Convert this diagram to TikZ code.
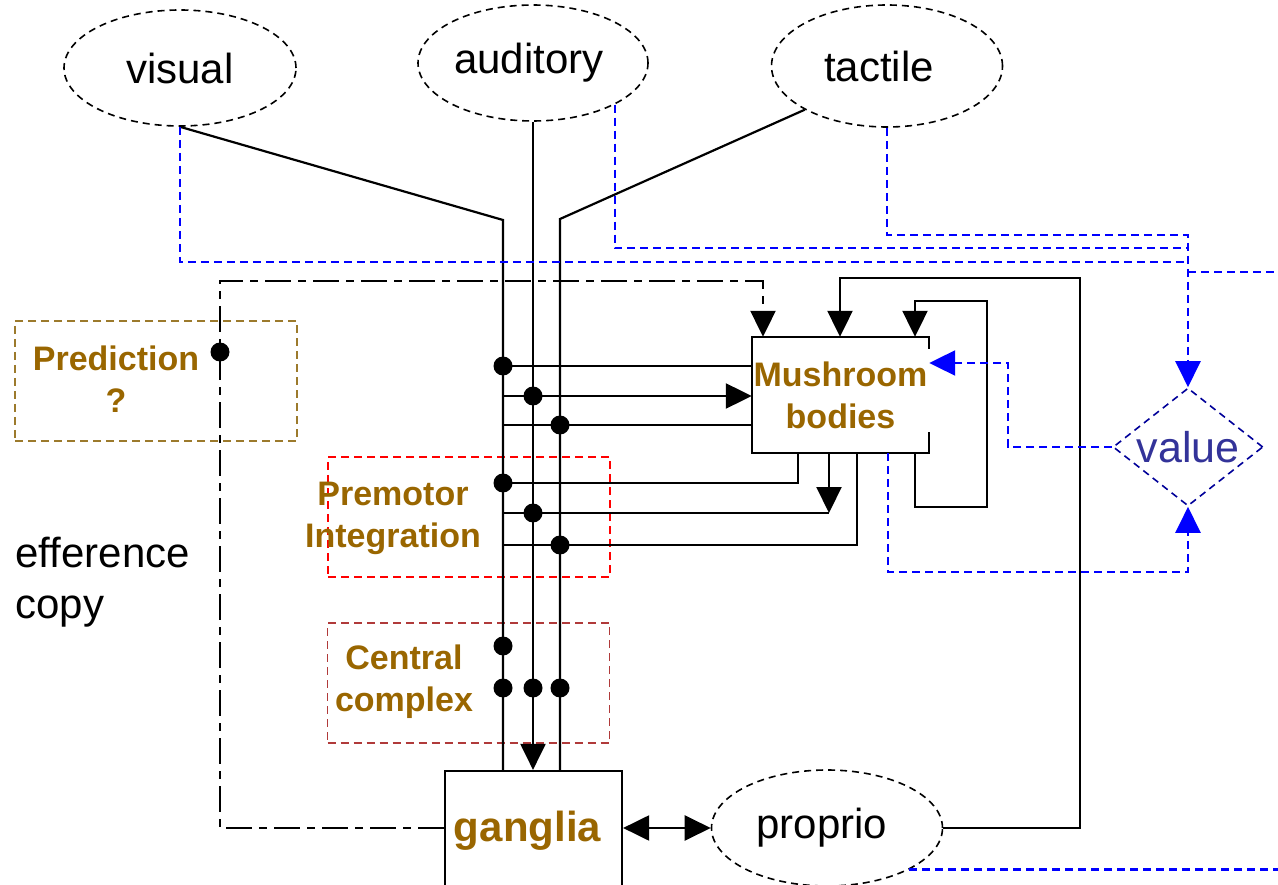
\documentclass[tikz,border=0pt]{standalone}
\usepackage{fontspec}
\setmainfont{Liberation Sans}
\usetikzlibrary{arrows.meta,shapes.geometric}

\definecolor{mbbrown}{HTML}{996600}
\definecolor{predline}{HTML}{9C7A2C}
\definecolor{ccline}{HTML}{B03A3A}
\definecolor{valblue}{HTML}{000099}
\definecolor{valtext}{HTML}{333399}

\tikzset{
  sense/.style={ellipse, draw, dash pattern=on 7pt off 5pt, line width=1.6pt,
    inner sep=0pt, font=\fontsize{42}{50}\selectfont},
  wire/.style={line width=2.2pt},
  dashdotwire/.style={line width=2.2pt, dash pattern=on 26pt off 7pt on 8pt off 7pt},
  bluewire/.style={blue, line width=2.2pt, dash pattern=on 8pt off 5pt},
  arrowend/.style={-{Triangle[length=26pt,width=25pt]}},
  region/.style={draw, dash pattern=on 8pt off 5pt, line width=1.6pt, inner sep=0pt,
    minimum width=282pt, minimum height=120pt},
  lbl/.style={text=mbbrown, font=\fontsize{34}{42}\selectfont\bfseries, align=center},
}

\begin{document}
\begin{tikzpicture}[x=1pt,y=-1pt]
\useasboundingbox (0,0) rectangle (1278,885);
\clip (0,0) rectangle (1278,885);

% dashed regions and their labels
\node[region, draw=predline] (predbox) at (156,381) {};
\node[lbl] (predtext) at (116,379) {Prediction\\?};
\node[region, draw=red] (premotor) at (469,517) {};
\node[lbl] (premotortext) at (393,518) {Premotor\\Integration};
\node[region, draw=ccline] (central) at (468.5,683) {};
\node[lbl] (centraltext) at (404,682) {Central\\complex};

\node[font=\fontsize{42}{51}\selectfont, align=left, anchor=west] (effcopy) at (12,582) {efference\\copy};

% sensory modalities
\node[sense, minimum width=232pt, minimum height=116pt] (visual) at (180,68) {visual};
\node[sense, minimum width=230pt, minimum height=116pt] (auditory) at (533,63) {auditory\hspace*{8pt}};
\node[sense, minimum width=231pt, minimum height=122pt] (tactile) at (887,66) {tactile\hspace*{16pt}};
\node[sense, minimum width=231pt, minimum height=116pt] (proprio) at (827,828) {proprio\hspace*{10pt}};

% ganglia and mushroom bodies
\node[draw, line width=2.2pt, minimum width=177pt, minimum height=120pt, inner sep=0pt,
  text=mbbrown, font=\fontsize{42}{50}\selectfont\bfseries] (ganglia) at (533.5,831) {ganglia\hspace*{12pt}};
\node[lbl, minimum width=177pt, minimum height=116pt, inner sep=0pt] (mb) at (840.5,395) {Mushroom\\bodies};
\draw[wire] (mb.north east) ++(0,12) -- (mb.north east) -- (mb.north west)
  -- (mb.south west) -- (mb.south east) -- ++(0,-21);

% value
\node[diamond, draw=valblue, dash pattern=on 7pt off 5pt, line width=1.6pt,
  minimum width=150pt, minimum height=118pt, inner sep=0pt] (value) at (1188,447) {};
\node[text=valtext, font=\fontsize{43}{50}\selectfont] (valuetext) at (1188,447) {value};

% sensory buses down to the ganglia
\coordinate (vbend) at (503,220);
\coordinate (tbend) at (560,219);
\draw[wire] (visual.south) -- (vbend) -- (vbend |- ganglia.north);
\draw[wire, arrowend] (auditory.south) -- (auditory.south |- ganglia.north);
\draw[wire] (tactile.south west) -- (tbend) -- (tbend |- ganglia.north);

% taps into the mushroom bodies
\draw[wire] (503,366) -- (mb.west |- 0,366);
\draw[wire, arrowend] (503,396) -- (mb.west |- 0,396);
\draw[wire] (503,425) -- (mb.west |- 0,425);
\fill (503,366) circle (9.5pt);
\fill (533,396) circle (9.5pt);
\fill (560,425) circle (9.5pt);

% mushroom body outputs to premotor integration
\draw[wire] (mb.south -| 798,0) -- (798,483) -- (503,483);
\draw[wire, arrowend] (mb.south -| 829,0) -- (829,513);
\draw[wire] (503,513) -- (829,513);
\draw[wire] (mb.south -| 857,0) -- (857,545) -- (503,545);
\fill (503,483) circle (9.5pt);
\fill (533,513) circle (9.5pt);
\fill (560,545) circle (9.5pt);

% central complex taps
\fill (503,646) circle (9.5pt);
\fill (503,688) circle (9.5pt);
\fill (533,688) circle (9.5pt);
\fill (560,688) circle (9.5pt);

% recurrent loops onto the mushroom bodies
\draw[wire, arrowend] (mb.south -| 915,0) -- (915,507) -- (987,507) -- (987,301)
  -- (915,301) -- (mb.north -| 915,0);
\draw[wire, arrowend] (proprio.east) -- (1080,828) -- (1080,278) -- (840,278)
  -- (mb.north -| 840,0);

% efference copy
\draw[dashdotwire, arrowend] (ganglia.west |- proprio.west) -- (220,828) -- (220,281)
  -- (763,281) -- (mb.north -| 763,0);
\fill (220,352) circle (9.5pt);

% ganglia <-> proprio
\draw[wire, {Triangle[length=26pt,width=25pt]}-{Triangle[length=26pt,width=25pt]}]
  (ganglia.east |- proprio.west) -- (proprio.west);

% value pathways
\draw[bluewire] (visual.south) -- (180,262) -- (1188,262);
\draw[bluewire] (auditory.south east) -- (auditory.south east |- 0,248) -- (1188,248);
\draw[bluewire, arrowend] (tactile.south) -- (tactile.south |- 0,235) -- (1188,235) -- (value.north);
\draw[bluewire] (1188,272) -- (1290,272);
\draw[bluewire, arrowend] (mb.south -| 888,0) -- (888,572) -- (1188,572) -- (value.south);
\draw[bluewire, arrowend] (value.west) -- (1008,447) -- (1008,363) -- (mb.east |- 0,363);
\draw[bluewire] (proprio.south east) -- (proprio.south east -| 1290,0);
\end{tikzpicture}
\end{document}
